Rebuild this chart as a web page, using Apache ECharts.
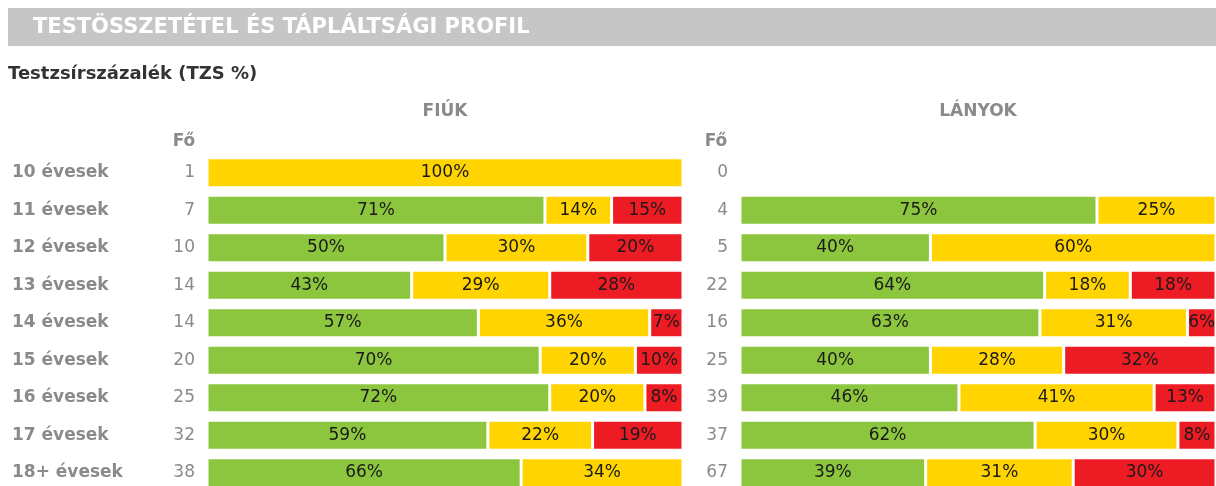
<!DOCTYPE html>
<html>
<head>
<meta charset="utf-8">
<script src="https://cdn.jsdelivr.net/npm/echarts@6/dist/echarts.min.js"></script>
<style>
  html, body { margin: 0; padding: 0; background: #fff; }
  #chart { width: 1216px; height: 486px; }
</style>
</head>
<body>
<div id="chart"></div>
<script>
const ageGroups = ['10 évesek', '11 évesek', '12 évesek', '13 évesek', '14 évesek', '15 évesek', '16 évesek', '17 évesek', '18+ évesek']
const boysCount = [1, 7, 10, 14, 14, 20, 25, 32, 38]
const girlsCount = [0, 4, 5, 22, 16, 25, 39, 37, 67]
// TZS kategóriák (%)
const boysGreen = [0, 71, 50, 43, 57, 70, 72, 59, 66]
const boysYellow = [100, 14, 30, 29, 36, 20, 20, 22, 34]
const boysRed = [0, 15, 20, 28, 7, 10, 8, 19, 0]
const girlsGreen = [0, 75, 40, 64, 63, 40, 46, 62, 39]
const girlsYellow = [0, 25, 60, 18, 31, 28, 41, 30, 31]
const girlsRed = [0, 0, 0, 18, 6, 32, 13, 8, 30]

const FONT = 'DejaVu Sans'
const GRAY = '#8a8a8a'
const colors = { green: '#8cc63f', yellow: '#ffd400', red: '#ed1c24' }

const dom = echarts.init(document.getElementById('chart'))

function seg (name, data, color, grid, stack) {
  return {
    name: name,
    type: 'bar',
    stack: stack,
    xAxisIndex: grid,
    yAxisIndex: grid * 2,
    barWidth: 30,
    data: data.map(v => (v > 0 ? v : '-')),
    itemStyle: { color: color, borderColor: '#fff', borderWidth: 1.5 },
    label: {
      show: true,
      position: 'inside',
      color: '#1a1a1a',
      fontFamily: FONT,
      fontSize: 17,
      formatter: p => p.value + '%'
    },
    silent: true
  }
}

function yAxes (grid, counts, withNames) {
  return [
    {
      type: 'category',
      gridIndex: grid,
      inverse: true,
      data: ageGroups,
      axisLine: { show: false },
      axisTick: { show: false },
      axisLabel: {
        show: withNames,
        align: 'left',
        margin: 195,
        color: GRAY,
        fontWeight: 'bold',
        fontFamily: FONT,
        fontSize: 17
      }
    },
    {
      type: 'category',
      gridIndex: grid,
      inverse: true,
      position: 'left',
      data: counts.map(String),
      axisLine: { show: false },
      axisTick: { show: false },
      axisLabel: {
        margin: 12,
        color: GRAY,
        fontFamily: FONT,
        fontSize: 17
      }
    }
  ]
}

function head (text, x, y, align, size, color) {
  return {
    text: text,
    left: x,
    top: y,
    padding: 0,
    textAlign: align,
    textStyle: { color: color, fontFamily: FONT, fontWeight: 'bold', fontSize: size }
  }
}

const option = {
  animation: false,
  graphic: [
    { type: 'rect', shape: { x: 8, y: 8, width: 1208, height: 38 }, style: { fill: '#c6c6c6' }, silent: true }
  ],
  title: [
    head('TESTÖSSZETÉTEL ÉS TÁPLÁLTSÁGI PROFIL', 33, 17, 'left', 21, '#fff'),
    head('Testzsírszázalék (TZS %)', 8, 65, 'left', 18, '#333'),
    head('FIÚK', 445, 103, 'center', 17, GRAY),
    head('LÁNYOK', 978, 103, 'center', 17, GRAY),
    head('Fő', 184, 133, 'center', 17, GRAY),
    head('Fő', 716, 133, 'center', 17, GRAY)
  ],
  grid: [
    { left: 207, width: 476, top: 154, height: 337.5, outerBoundsMode: 'none' },
    { left: 740, width: 476, top: 154, height: 337.5, outerBoundsMode: 'none' }
  ],
  xAxis: [
    { type: 'value', gridIndex: 0, min: 0, max: 100, show: false },
    { type: 'value', gridIndex: 1, min: 0, max: 100, show: false }
  ],
  yAxis: yAxes(0, boysCount, true).concat(yAxes(1, girlsCount, false)),
  series: [
    seg('Fiúk megfelelő', boysGreen, colors.green, 0, 'boys'),
    seg('Fiúk fejlesztés', boysYellow, colors.yellow, 0, 'boys'),
    seg('Fiúk egészségkockázat', boysRed, colors.red, 0, 'boys'),
    seg('Lányok megfelelő', girlsGreen, colors.green, 1, 'girls'),
    seg('Lányok fejlesztés', girlsYellow, colors.yellow, 1, 'girls'),
    seg('Lányok egészségkockázat', girlsRed, colors.red, 1, 'girls')
  ]
}

dom.setOption(option)
</script>
</body>
</html>
